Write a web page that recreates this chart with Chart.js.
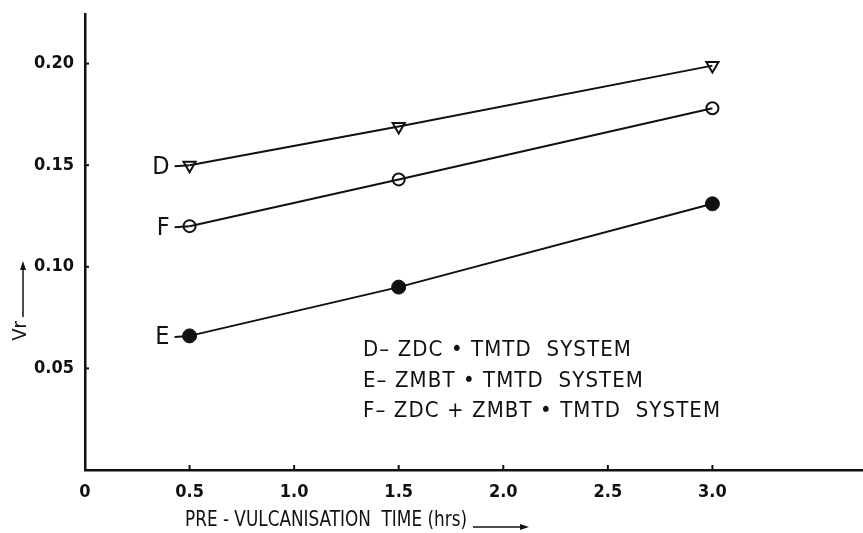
<!DOCTYPE html>
<html>
<head>
<meta charset="utf-8">
<script src="https://cdn.jsdelivr.net/npm/chart.js@4.4.1/dist/chart.umd.min.js"></script>
<style>
  html, body { margin: 0; padding: 0; background: #fff; }
  #wrap { width: 863px; height: 533px; }
</style>
</head>
<body>
<div id="wrap"><canvas id="vrChart"></canvas></div>
<script>
// --- data ---
const xValues = [0.5, 1.5, 3.0];
const seriesD = [0.150, 0.169, 0.199];
const seriesF = [0.120, 0.143, 0.178];
const seriesE = [0.066, 0.090, 0.131];
const xTicks = [0, 0.5, 1.0, 1.5, 2.0, 2.5, 3.0];
const yTicks = [0.05, 0.10, 0.15, 0.20];
const legendLines = [
  'D– ZDC • TMTD  SYSTEM',
  'E– ZMBT • TMTD  SYSTEM',
  'F– ZDC + ZMBT • TMTD  SYSTEM'
];
const xTitle = 'PRE - VULCANISATION  TIME (hrs)';
const yTitle = 'Vr';

const INK = '#111';
const toPoints = (ys) => ys.map((y, i) => ({ x: xValues[i], y: y }));

// draws text squeezed horizontally to a given width
const fitText = (ctx, text, x, y, width) => {
  const w = ctx.measureText(text).width;
  const k = Math.min(1, width / w);
  ctx.save();
  ctx.translate(x, y);
  ctx.scale(k, 1);
  ctx.fillText(text, 0, 0);
  ctx.restore();
  return w * k;
};

// letters D / F / E with the short lead-in stroke, legend, titles, inner ticks
const annotations = {
  id: 'annotations',
  afterDraw(chart) {
    const { ctx, chartArea } = chart;
    const xs = chart.scales.x;
    const ys = chart.scales.y;
    ctx.save();
    ctx.strokeStyle = INK;
    ctx.fillStyle = INK;

    // inner tick marks
    ctx.lineWidth = 2;
    xTicks.forEach(v => {
      const px = xs.getPixelForValue(v);
      ctx.beginPath();
      ctx.moveTo(px, chartArea.bottom);
      ctx.lineTo(px, chartArea.bottom - 5);
      ctx.stroke();
    });
    yTicks.forEach(v => {
      const py = ys.getPixelForValue(v);
      ctx.beginPath();
      ctx.moveTo(chartArea.left, py);
      ctx.lineTo(chartArea.left + 4, py);
      ctx.stroke();
    });

    // series letters at the start of each line
    chart.data.datasets.forEach(ds => {
      const p0 = ds.data[0];
      const px = xs.getPixelForValue(p0.x);
      const py = ys.getPixelForValue(p0.y);
      ctx.lineWidth = 2;
      ctx.beginPath();
      ctx.moveTo(px - 15, py + 1);
      ctx.lineTo(px, py);
      ctx.stroke();
      ctx.font = '25px "DejaVu Sans Condensed"';
      ctx.textAlign = 'right';
      ctx.textBaseline = 'middle';
      ctx.fillText(ds.label, px - 20, py + 2);
    });

    // legend text block
    ctx.font = '22px "DejaVu Sans Condensed"';
    ctx.textAlign = 'left';
    ctx.textBaseline = 'middle';
    const natural = ctx.measureText(legendLines[2]).width;
    const spacing = Math.max(0, (357 - natural) / (legendLines[2].length - 1));
    ctx.letterSpacing = spacing.toFixed(2) + 'px';
    const legendY = [350, 381, 411];
    legendLines.forEach((t, i) => ctx.fillText(t, 363, legendY[i]));
    ctx.letterSpacing = '0px';

    // x axis title with arrow
    ctx.font = '21px "DejaVu Sans Condensed"';
    ctx.textAlign = 'left';
    ctx.textBaseline = 'middle';
    const tx = 185, ty = 521;
    const tw = fitText(ctx, xTitle, tx, ty, 282);
    const ax0 = tx + tw + 6, ax1 = ax0 + 56, ay = ty + 6;
    ctx.lineWidth = 1.5;
    ctx.beginPath();
    ctx.moveTo(ax0, ay);
    ctx.lineTo(ax1 - 6, ay);
    ctx.stroke();
    ctx.beginPath();
    ctx.moveTo(ax1, ay);
    ctx.lineTo(ax1 - 9, ay - 3);
    ctx.lineTo(ax1 - 9, ay + 3);
    ctx.closePath();
    ctx.fill();

    // y axis title with arrow
    ctx.save();
    ctx.translate(21, 331);
    ctx.rotate(-Math.PI / 2);
    ctx.font = '20px "DejaVu Sans Condensed"';
    ctx.textAlign = 'center';
    ctx.textBaseline = 'middle';
    ctx.fillText(yTitle, 0, 0);
    ctx.lineWidth = 1.5;
    ctx.beginPath();
    ctx.moveTo(14, 2);
    ctx.lineTo(62, 2);
    ctx.stroke();
    ctx.beginPath();
    ctx.moveTo(70, 2);
    ctx.lineTo(61, -1);
    ctx.lineTo(61, 5);
    ctx.closePath();
    ctx.fill();
    ctx.restore();

    ctx.restore();
  }
};

new Chart(document.getElementById('vrChart'), {
  type: 'scatter',
  data: {
    datasets: [
      {
        label: 'D',
        data: toPoints(seriesD),
        showLine: true,
        borderColor: INK,
        borderWidth: 2,
        pointStyle: 'triangle',
        rotation: 180,
        pointRadius: 7,
        pointBorderWidth: 2,
        pointBackgroundColor: 'rgba(0,0,0,0)',
        pointBorderColor: INK
      },
      {
        label: 'F',
        data: toPoints(seriesF),
        showLine: true,
        borderColor: INK,
        borderWidth: 2,
        pointStyle: 'circle',
        pointRadius: 6,
        pointBorderWidth: 2,
        pointBackgroundColor: 'rgba(0,0,0,0)',
        pointBorderColor: INK
      },
      {
        label: 'E',
        data: toPoints(seriesE),
        showLine: true,
        borderColor: INK,
        borderWidth: 2,
        pointStyle: 'circle',
        pointRadius: 7,
        pointBorderWidth: 1,
        pointBackgroundColor: INK,
        pointBorderColor: INK
      }
    ]
  },
  options: {
    responsive: true,
    maintainAspectRatio: false,
    animation: false,
    layout: { autoPadding: false, padding: { top: 10, right: 0, left: 0, bottom: 0 } },
    plugins: {
      legend: { display: false },
      tooltip: { enabled: false }
    },
    scales: {
      x: {
        type: 'linear',
        min: 0,
        max: 3.72,
        afterBuildTicks: (scale) => { scale.ticks = xTicks.map(v => ({ value: v })); },
        afterFit: (scale) => { scale.height = 63; },
        border: { display: true, color: INK, width: 2.5 },
        grid: { display: false },
        ticks: {
          color: INK,
          padding: 4,
          maxRotation: 0,
          autoSkip: false,
          font: { family: '"DejaVu Sans Condensed"', size: 18, weight: 'bold' },
          callback: (v) => v === 0 ? '0' : Number(v).toFixed(1)
        }
      },
      y: {
        type: 'linear',
        min: 0,
        max: 0.2245,
        afterBuildTicks: (scale) => { scale.ticks = yTicks.map(v => ({ value: v })); },
        afterFit: (scale) => { scale.width = 85; },
        border: { display: true, color: INK, width: 2.5 },
        grid: { display: false },
        ticks: {
          color: INK,
          padding: 3,
          autoSkip: false,
          font: { family: '"DejaVu Sans Condensed"', size: 18, weight: 'bold' },
          callback: (v) => Number(v).toFixed(2)
        }
      }
    }
  },
  plugins: [annotations]
});
</script>
</body>
</html>
